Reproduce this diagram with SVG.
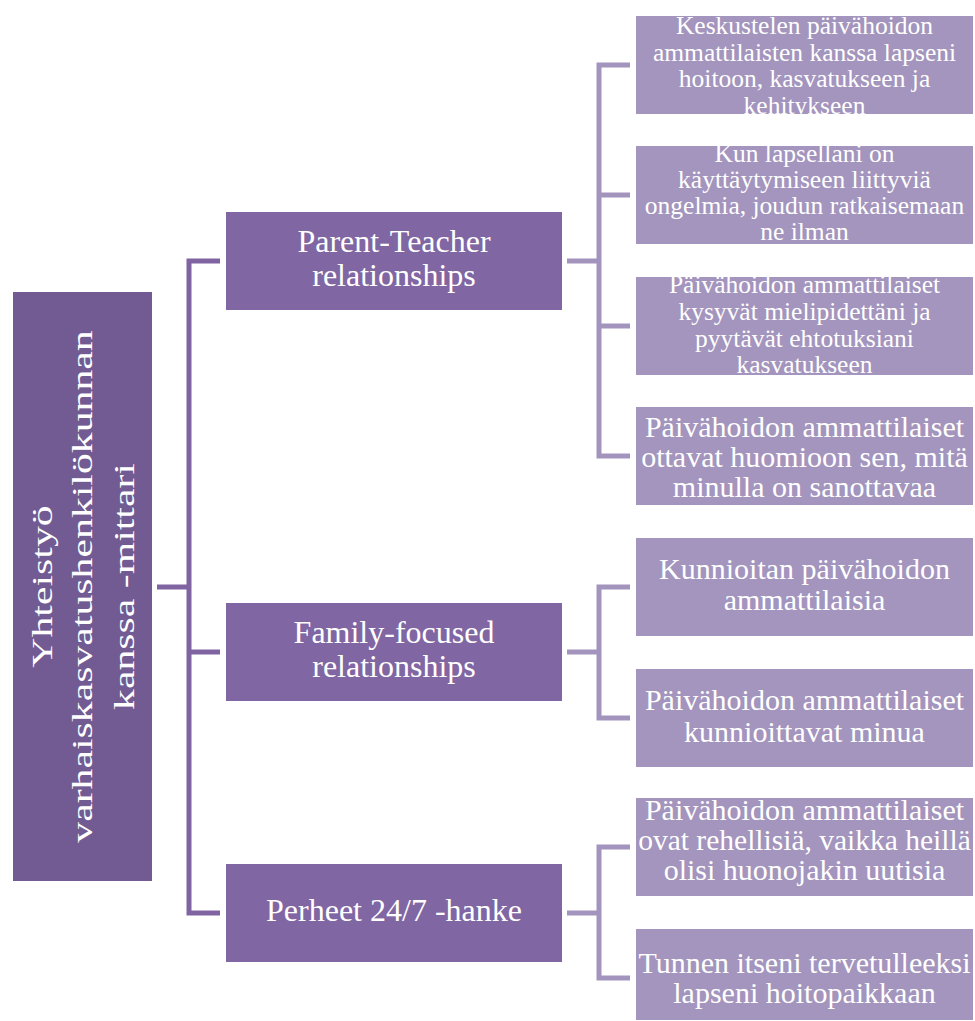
<svg xmlns="http://www.w3.org/2000/svg" width="975" height="1021" viewBox="0 0 975 1021">
<style>
.root{fill:#725b92}
.l2{fill:#8066a2}
.leaf{fill:#a395bd}
text{font-family:"Liberation Serif","Times New Roman",serif;fill:#ffffff;text-anchor:middle}
.t-root{font-size:29px}
.t-l2{font-size:32px}
.t-s{font-size:25.5px}
.t-m{font-size:30px}
.c1{fill:none;stroke:#8064a2;stroke-width:5}
.c2{fill:none;stroke:#a394bd;stroke-width:5}
</style>
<defs>
<clipPath id="cb1"><rect x="636" y="16" width="337" height="98"/></clipPath>
<clipPath id="cb2"><rect x="636" y="146" width="337" height="98"/></clipPath>
<clipPath id="cb3"><rect x="636" y="277" width="337" height="98"/></clipPath>
</defs>
<rect width="975" height="1021" fill="#ffffff"/>
<g id="connectors">
<path class="c1" d="M157,587 H189 M220,261 H189 V913 H220 M189,652 H220"/>
<path class="c2" d="M567,261 H599 M630,65 H599 V456 H630 M599,195 H630 M599,326 H630"/>
<path class="c2" d="M567,652 H599 M630,587 H599 V718 H630"/>
<path class="c2" d="M567,913 H599 M630,847 H599 V978 H630"/>
</g>
<g id="root">
<rect class="root" x="13" y="292" width="139" height="589"/>
<g transform="translate(82.5,586.5) rotate(-90) scale(1.44,1)">
<text class="t-root" x="0" y="-30.5">Yhteistyö</text>
<text class="t-root" x="0" y="9.5">varhaiskasvatushenkilökunnan</text>
<text class="t-root" x="0" y="51.5">kanssa -mittari</text>
</g>
</g>
<g id="parent-teacher">
<rect class="l2" x="226" y="212" width="336" height="98"/>
<text class="t-l2" x="394" y="252">Parent-Teacher</text>
<text class="t-l2" x="394" y="286">relationships</text>
</g>
<g id="family-focused">
<rect class="l2" x="226" y="603" width="336" height="98"/>
<text class="t-l2" x="394" y="643">Family-focused</text>
<text class="t-l2" x="394" y="677">relationships</text>
</g>
<g id="perheet">
<rect class="l2" x="226" y="864" width="336" height="98"/>
<text class="t-l2" x="394" y="921">Perheet 24/7 -hanke</text>
</g>
<g id="leaf1">
<rect class="leaf" x="636" y="16" width="337" height="98"/>
<g clip-path="url(#cb1)">
<text class="t-s" x="804.5" y="34">Keskustelen päivähoidon</text>
<text class="t-s" x="804.5" y="60.5">ammattilaisten kanssa lapseni</text>
<text class="t-s" x="804.5" y="87">hoitoon, kasvatukseen ja</text>
<text class="t-s" x="804.5" y="113.5">kehitykseen</text>
</g>
</g>
<g id="leaf2">
<rect class="leaf" x="636" y="146" width="337" height="98"/>
<g clip-path="url(#cb2)">
<text class="t-s" x="804.5" y="162">Kun lapsellani on</text>
<text class="t-s" x="804.5" y="188">käyttäytymiseen liittyviä</text>
<text class="t-s" x="804.5" y="213.5">ongelmia, joudun ratkaisemaan</text>
<text class="t-s" x="804.5" y="239.5">ne ilman</text>
</g>
</g>
<g id="leaf3">
<rect class="leaf" x="636" y="277" width="337" height="98"/>
<g clip-path="url(#cb3)">
<text class="t-s" x="804.5" y="293">Päivähoidon ammattilaiset</text>
<text class="t-s" x="804.5" y="320">kysyvät mielipidettäni ja</text>
<text class="t-s" x="804.5" y="347">pyytävät ehtotuksiani</text>
<text class="t-s" x="804.5" y="373">kasvatukseen</text>
</g>
</g>
<g id="leaf4">
<rect class="leaf" x="636" y="407" width="337" height="98"/>
<text class="t-m" x="804.5" y="437">Päivähoidon ammattilaiset</text>
<text class="t-m" x="804.5" y="467">ottavat huomioon sen, mitä</text>
<text class="t-m" x="804.5" y="497">minulla on sanottavaa</text>
</g>
<g id="leaf5">
<rect class="leaf" x="636" y="538" width="337" height="98"/>
<text class="t-m" x="804.5" y="579">Kunnioitan päivähoidon</text>
<text class="t-m" x="804.5" y="610">ammattilaisia</text>
</g>
<g id="leaf6">
<rect class="leaf" x="636" y="669" width="337" height="98"/>
<text class="t-m" x="804.5" y="710">Päivähoidon ammattilaiset</text>
<text class="t-m" x="804.5" y="742">kunnioittavat minua</text>
</g>
<g id="leaf7">
<rect class="leaf" x="636" y="798" width="337" height="98"/>
<text class="t-m" x="804.5" y="820">Päivähoidon ammattilaiset</text>
<text class="t-m" x="804.5" y="850" style="font-size:29.5px">ovat rehellisiä, vaikka heillä</text>
<text class="t-m" x="804.5" y="880">olisi huonojakin uutisia</text>
</g>
<g id="leaf8">
<rect class="leaf" x="636" y="929" width="337" height="91"/>
<text class="t-m" x="804.5" y="973">Tunnen itseni tervetulleeksi</text>
<text class="t-m" x="804.5" y="1003">lapseni hoitopaikkaan</text>
</g>
</svg>
